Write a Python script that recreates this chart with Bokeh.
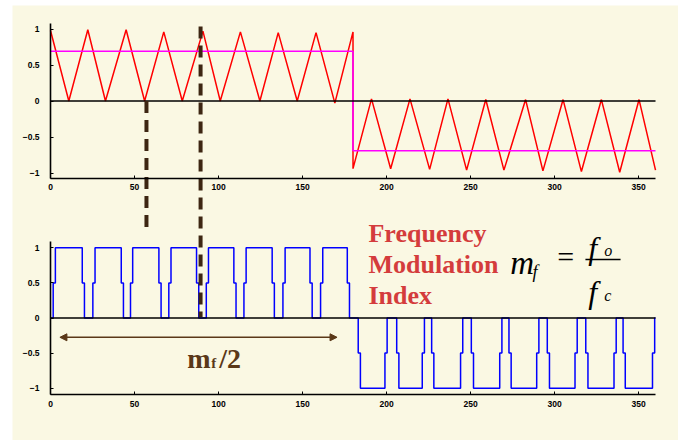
from bokeh.plotting import figure
from bokeh.models import Range1d, LinearAxis, FixedTicker, Arrow, NormalHead, Label
from bokeh.embed import file_html
from bokeh.resources import INLINE

# ---------------- data ----------------
X_MIN, X_MAX = 0, 360
x_ticks = [0, 50, 100, 150, 200, 250, 300, 350]
y_ticks = [-1, -0.5, 0, 0.5, 1]

red_x = [0, 10.9, 22.2, 32.7, 45.0, 56.0, 67.4, 78.4, 90.7, 101.0, 113.0,
         124.6, 135.5, 146.8, 158.0, 169.2, 180.0,
         180.0, 191.0, 202.4, 213.9, 225.6, 236.5, 247.6, 259.0, 269.8,
         282.7, 293.0, 305.0, 315.9, 327.8, 338.7, 350.2, 360.0]
red_y = [0.98, 0.0, 0.99, 0.0, 0.99, 0.0, 0.96, 0.0, 0.97, 0.0, 0.96,
         0.0, 0.95, 0.0, 0.95, -0.03, 0.96,
         -0.94, 0.03, -0.94, 0.03, -0.95, 0.03, -0.96, 0.02, -0.96,
         0.02, -0.97, 0.02, -0.98, 0.02, -0.99, 0.02, -0.96]

# modulating square wave
mod_x = [0, 180, 180, 360]
mod_y = [0.69, 0.69, -0.69, -0.69]

# PWM output pulses (bottom panel): start / end of each pulse and its level
pulse_start = [1.6, 25.2, 47.6, 70.4, 92.7, 115.1, 138.3, 160.7,
               183.1, 206.0, 226.8, 250.4, 272.8, 295.6, 318.5, 340.7]
pulse_end = [18.9, 42.1, 64.5, 86.9, 109.1, 131.9, 154.4, 176.6,
             199.0, 221.2, 244.0, 267.3, 289.3, 312.1, 335.3, 358.2]
pulse_level = [1, 1, 1, 1, 1, 1, 1, 1,
               -1, -1, -1, -1, -1, -1, -1, -1]

# ---------------- layout (pixel geometry of the picture) ----------------
W, H = 678, 440
LEFT, TOP = 12, 5
PX_X0, PX_PER_X = 50.0, 1.6806          # x = 0 at px 50
TOP_Y0, TOP_PPU = 100.5, 72.0           # top panel: y = 0 at px 100.5
BOT_Y0, BOT_PPU = 317.5, 70.2           # bottom panel: y = 0 at px 317.5

def xr():
    return Range1d((LEFT - PX_X0) / PX_PER_X, (W - PX_X0) / PX_PER_X)

def yr(y0, ppu):
    return Range1d((y0 - H) / ppu, (y0 - TOP) / ppu)

CREAM = "#faf8e3"
p = figure(width=W, height=H, output_backend="svg", toolbar_location=None,
           x_axis_type=None, y_axis_type=None,
           x_range=xr(), y_range=yr(TOP_Y0, TOP_PPU),
           min_border_left=LEFT, min_border_top=TOP,
           min_border_right=0, min_border_bottom=0)
p.extra_y_ranges = {"bot": yr(BOT_Y0, BOT_PPU)}
p.background_fill_color = CREAM
p.border_fill_color = "white"
p.outline_line_color = None
p.xgrid.visible = False
p.ygrid.visible = False

TICK_FONT = "Liberation Sans"

def style_axis(ax, standoff):
    ax.axis_line_color = "black"
    ax.axis_line_width = 1.6
    ax.major_tick_in = 3
    ax.major_tick_out = 0
    ax.minor_tick_in = 0
    ax.minor_tick_out = 0
    ax.major_tick_line_color = "black"
    ax.major_label_text_font = TICK_FONT
    ax.major_label_text_font_size = "8.5px"
    ax.major_label_text_font_style = "bold"
    ax.major_label_text_color = "black"
    ax.major_label_standoff = standoff

for rname, bnd in ((None, 1.076), ("bot", 1.09)):
    kw = {} if rname is None else {"y_range_name": rname}
    ya = LinearAxis(ticker=FixedTicker(ticks=y_ticks), fixed_location=X_MIN,
                    bounds=(-bnd, bnd), **kw)
    style_axis(ya, 11)
    p.add_layout(ya, "left")
    xa = LinearAxis(ticker=FixedTicker(ticks=x_ticks), fixed_location=-bnd,
                    bounds=(X_MIN, X_MAX), **kw)
    style_axis(xa, 6)
    p.add_layout(xa, "below")

# ---------------- top panel ----------------
p.line(red_x, red_y, line_color="#ff0000", line_width=1.5)
p.line(mod_x, mod_y, line_color="#ff00ff", line_width=1.6)
p.line([X_MIN, X_MAX], [0, 0], line_color="black", line_width=1.6)

# ---------------- bottom panel ----------------
STEP = 1.3
bx, by = [X_MIN], [0]
for a, b, lv in zip(pulse_start, pulse_end, pulse_level):
    bx += [a, a, a + STEP, a + STEP, b, b, b + STEP, b + STEP]
    by += [0, lv / 2, lv / 2, lv, lv, lv / 2, lv / 2, 0]
bx.append(X_MAX)
by.append(0)
p.line(bx, by, line_color="#0000ff", line_width=1.5, y_range_name="bot")
p.line([X_MIN, X_MAX], [0, 0], line_color="black", line_width=1.6,
       y_range_name="bot")

# ---------------- annotations ----------------
BROWN = "#3d2612"
p.line([57.1, 57.1], [0.0, -1.8], line_color=BROWN, line_width=4,
       line_dash="12 7")
p.line([89.3, 89.3], [1.035, -3.0], line_color=BROWN, line_width=4,
       line_dash="12 7")

ARROW_C = "#5a3818"
p.add_layout(Arrow(start=NormalHead(size=7, fill_color=ARROW_C, line_color=ARROW_C),
                   end=NormalHead(size=7, fill_color=ARROW_C, line_color=ARROW_C),
                   x_start=5.6, y_start=-0.275, x_end=170.5, y_end=-0.275,
                   line_color=ARROW_C, line_width=1.6, y_range_name="bot"))

def lab(text, x, y, size, color, style, font="Liberation Serif", rn="bot"):
    p.add_layout(Label(text=text, x=x, y=y, y_range_name=rn,
                       text_font=font, text_font_size=size,
                       text_font_style=style, text_color=color,
                       text_baseline="alphabetic", text_align="left"))

# m_f / 2
lab("m", 81.3, -0.577, "28px", ARROW_C, "bold")
lab("f", 95.6, -0.648, "15px", ARROW_C, "bold")
lab("/2", 100.4, -0.577, "28px", ARROW_C, "bold")

# Frequency Modulation Index
RED_T = "#d43c3c"
for txt, yy in (("Frequency", 1.204), ("Modulation", 0.762), ("Index", 0.321)):
    lab(txt, 189.2, yy, "26px", RED_T, "bold")

# m_f = f_o / f_c
lab("m", 273.5, 0.79, "33px", "black", "italic")
lab("f", 286.8, 0.66, "18px", "black", "italic")
lab("=", 301.5, 0.875, "30px", "black", "normal")
p.line([318.3, 339.2], [0.833, 0.833], line_color="black", line_width=1.5,
       y_range_name="bot")
lab("f", 320.0, 1.0, "32px", "black", "italic")
lab("o", 329.5, 0.962, "16px", "black", "italic")
lab("f", 320.0, 0.37, "32px", "black", "italic")
lab("c", 329.5, 0.321, "16px", "black", "italic")

open("out.html", "w").write(file_html(p, INLINE))
